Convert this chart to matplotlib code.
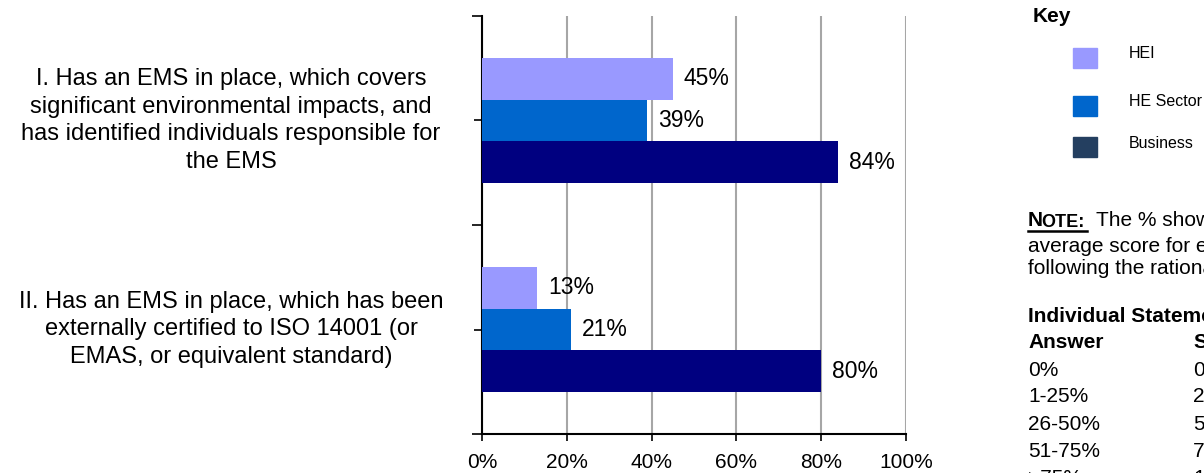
import numpy as np
import matplotlib
matplotlib.use('Agg')
import matplotlib.pyplot as plt
from matplotlib.patches import Rectangle
from matplotlib.lines import Line2D
from matplotlib.ticker import FixedLocator
import matplotlib.transforms as mtransforms

plt.rcParams['font.family'] = ['Liberation Sans', 'DejaVu Sans']

# data
statements = ['I. Has an EMS in place, which covers\nsignificant environmental impacts, and\nhas identified individuals responsible for\nthe EMS',
              'II. Has an EMS in place, which has been\nexternally certified to ISO 14001 (or\nEMAS, or equivalent standard)']
series = ['HEI', 'HE Sector', 'Business']
hei = [45, 13]
he_sector = [39, 21]
business = [84, 80]
bar_colors = ['#9999FF', '#0066CC', '#000080']
key_colors = ['#9999FF', '#0066CC', '#243F60']

answers = ['0%', '1-25%', '26-50%', '51-75%', '>75%']
scores = ['0%', '25%', '50%', '75%', '100%']

W, H = 1204, 473
fig = plt.figure(figsize=(W / 100, H / 100), dpi=100)
ax = fig.add_axes([482 / W, 39 / H, 424 / W, 418 / H])

ypos = np.array([1, 0])
h = 0.2
for vals, off, col in zip([hei, he_sector, business], [h, 0, -h], bar_colors):
    bars = ax.barh(ypos + off, vals, height=h, color=col, zorder=3)
    ax.bar_label(bars, labels=[f'{v}%' for v in vals], padding=8, fontsize=16.5)

ax.set_xlim(0, 100)
ax.set_ylim(-0.5, 1.5)
ax.set_xticks(range(0, 101, 20))
ax.set_xticklabels([f'{t}%' for t in range(0, 101, 20)], fontsize=15)
ax.grid(axis='x', color='#A6A6A6', linewidth=1.5, zorder=0)
ax.set_yticks(ypos)
ax.set_yticklabels([])
ax.yaxis.set_minor_locator(FixedLocator([-0.5, 0.5, 1.5]))
ax.tick_params(axis='y', which='major', direction='inout', length=12, width=1.2)
ax.tick_params(axis='y', which='minor', direction='out', length=7, width=1.2)
ax.tick_params(axis='x', direction='out', length=5, width=1.2, pad=9)
for s in ['top', 'right']:
    ax.spines[s].set_visible(False)
for s in ['left', 'bottom']:
    ax.spines[s].set_linewidth(1.5)

trans = mtransforms.blended_transform_factory(ax.transAxes, ax.transData)
for y, lab in zip(ypos, statements):
    ax.text(-0.592, y, lab, transform=trans, ha='center', va='center',
            fontsize=17, linespacing=1.32)

# key panel
def fx(px):
    return px / W

def fy(py):
    return 1 - py / H

fig.text(fx(1033), fy(16), 'Key', fontsize=15, fontweight='bold', va='center')
for i, (name, col) in enumerate(zip(series, key_colors)):
    yc = [58, 106, 147][i]
    fig.add_artist(Rectangle((fx(1073), fy(yc + 10)), 24 / W, 20 / H,
                             transform=fig.transFigure, color=col))
    fig.text(fx(1129), fy(yc - 4), name, fontsize=11.5, va='center')

# note
fig.text(fx(1028), fy(221), 'N', fontsize=15, fontweight='bold', va='center')
fig.text(fx(1041), fy(222.5), 'OTE:', fontsize=13, fontweight='bold', va='center')
fig.add_artist(Line2D([fx(1028), fx(1087)], [fy(231), fy(231)], color='black',
                      linewidth=1.8, transform=fig.transFigure))
fig.text(fx(1096), fy(221), 'The % shown is the', fontsize=15, va='center')
fig.text(fx(1028), fy(246), 'average score for each statement,', fontsize=15, va='center')
fig.text(fx(1028), fy(269), 'following the rationale below:', fontsize=15, va='center')

fig.text(fx(1028), fy(316), 'Individual Statements', fontsize=15, fontweight='bold', va='center')
fig.text(fx(1028), fy(343), 'Answer', fontsize=15, fontweight='bold', va='center')
fig.text(fx(1193), fy(343), 'Score', fontsize=15, fontweight='bold', va='center')
for i, (a, s) in enumerate(zip(answers, scores)):
    yy = 370 + 27 * i
    fig.text(fx(1028), fy(yy), a, fontsize=15, va='center')
    fig.text(fx(1193), fy(yy), s, fontsize=15, va='center')

fig.savefig('out.png', dpi=100)
